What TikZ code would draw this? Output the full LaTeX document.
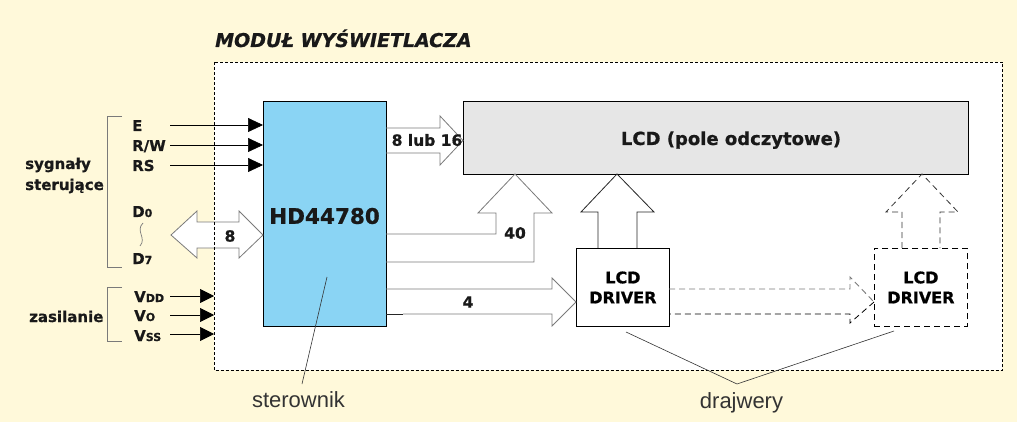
\documentclass[tikz,border=0pt]{standalone}
\usepackage{fontspec}
\setmainfont{DejaVu Sans}[BoldFeatures={FakeBold=0.8},BoldItalicFeatures={FakeBold=0.8}]
\newfontfamily\thinf{Liberation Sans}
\usetikzlibrary{arrows.meta}
\definecolor{bgy}{HTML}{FFF9DA}
\definecolor{hdblue}{HTML}{8AD4F4}
\definecolor{lcdgray}{HTML}{E6E6E6}
\definecolor{agray}{HTML}{7A7A7A}
\definecolor{tgray}{HTML}{333333}
\tikzset{
  box/.style={draw=black, line width=0.8pt, inner sep=0pt},
  lbl/.style={inner sep=0pt, text=black!90},
  sig/.style={lbl, font=\bfseries\fontsize{15}{18}\selectfont, anchor=base west},
  fat/.style={draw=agray, line width=0.8pt, line join=miter},
  fatdark/.style={draw=black!85, line width=0.8pt, line join=miter},
  pin/.style={draw=black, line width=0.7pt, -{Triangle[length=15pt,width=14pt]}},
  pinv/.style={draw=black, line width=0.7pt, -{Triangle[length=14pt,width=14pt]}},
  brk/.style={draw=agray, line width=0.8pt},
  ptr/.style={draw=tgray, line width=0.6pt},
  note/.style={inner sep=0pt, text=tgray, font=\thinf\fontsize{22}{26}\selectfont, anchor=base},
  dbox/.style={draw=black, line width=0.8pt, dash pattern=on 6pt off 4pt, inner sep=0pt}
}
\begin{document}
\begin{tikzpicture}[x=1pt,y=-1pt]
\useasboundingbox (0,0) rectangle (1017,422);
\fill[bgy] (0,0) rectangle (1017,422);
% module area
\node[fill=white, inner sep=0pt, minimum width=788, minimum height=308, anchor=north west] (mod) at (214,62) {};
\node[lbl, font=\bfseries\itshape\fontsize{19}{22}\selectfont, anchor=base west] (title) at (215,47) {MODUŁ WYŚWIETLACZA};

% main blocks
\node[box, fill=hdblue, minimum width=123, minimum height=225, anchor=north west] (hd) at (263,101) {};
\node[lbl, font=\bfseries\fontsize{21.5}{24}\selectfont] (hdt) at (324.5,216) {HD44780};
\node[box, fill=lcdgray, minimum width=505, minimum height=73, anchor=north west] (lcd) at (463,101) {};
\node[lbl, font=\bfseries\fontsize{18}{21}\selectfont, anchor=base] (lcdt) at (731,145) {LCD (pole odczytowe)};
\node[box, fill=white, minimum width=93, minimum height=78, anchor=north west, align=center, font=\bfseries\fontsize{16}{20}\selectfont] (drv1) at (576,248) {LCD\\DRIVER};
\node[dbox, minimum width=93, minimum height=78, anchor=north west, align=center, font=\bfseries\fontsize{16}{20}\selectfont] (drv2) at (874,248) {LCD\\DRIVER};

% fat arrow 8 lub 16
\draw[fat] (386,128) -- (440,128) -- (440,116) -- (463,140.5) -- (440,165) -- (440,153) -- (386,153);
\node[lbl, font=\bfseries\fontsize{15.5}{18}\selectfont] (a16) at (427,140) {8 lub 16};
% fat arrow 40
\draw[fat] (386,234) -- (496,234) -- (496,213) -- (478,213) -- (515,174) -- (552,213) -- (534,213) -- (534,262) -- (386,262);
\node[lbl, font=\bfseries\fontsize{15.5}{18}\selectfont] (a40) at (515,233) {40};
% fat arrow 4
\draw[fat] (386,289) -- (552,289) -- (552,278) -- (576,302) -- (552,326) -- (552,314) -- (403,314);
\draw[fatdark] (386,314) -- (403,314);
\node[lbl, font=\bfseries\fontsize{15.5}{18}\selectfont] (a4) at (468,302) {4};
% driver1 to lcd
\draw[fatdark] (598,248) -- (598,212) -- (581,212) -- (617,174) -- (654,212) -- (637,212) -- (637,248);
% dashed arrow driver1 -> driver2
\draw[draw=agray, line width=0.9pt, dash pattern=on 6pt off 4pt] (669,289) -- (850,289) -- (850,277) -- (874,302);
\draw[draw=black, line width=0.8pt, dash pattern=on 6pt off 4pt] (874,302) -- (850,323) -- (850,314) -- (669,314);
% dashed up arrow driver2 -> lcd
\draw[draw=black!80, line width=0.8pt, dash pattern=on 6pt off 4pt] (902,248) -- (902,212) -- (886,212) -- (922,174) -- (958,212) -- (940,212) -- (940,248);

% data bus double arrow
\draw[fat, fill=white] (197,222) -- (239,222) -- (239,211) -- (263,235) -- (239,258) -- (239,248) -- (197,248) -- (197,258) -- (171,235) -- (197,211) -- cycle;
\node[lbl, font=\bfseries\fontsize{15.5}{18}\selectfont] (a8) at (230,236) {8};

% module border on top
\draw[black, line width=0.7pt, dash pattern=on 3pt off 2pt] (mod.north west) rectangle (mod.south east);

% control signals
\node[sig] (E) at (132,131) {E};
\node[sig] (RW) at (132,151) {R/W};
\node[sig] (RS) at (132,171) {RS};
\coordinate (Es) at (170,125);
\coordinate (RWs) at (170,145);
\coordinate (RSs) at (170,165);
\draw[pin] (Es) -- (Es -| hd.west);
\draw[pin] (RWs) -- (RWs -| hd.west);
\draw[pin] (RSs) -- (RSs -| hd.west);
\node[sig] (D0) at (132,217) {D{\fontsize{11}{13}\selectfont 0}};
\node[sig] (D7) at (132,264) {D{\fontsize{11}{13}\selectfont 7}};
\draw[agray, line width=0.7pt] (143,223) .. controls (135,231) and (147,238) .. (140,246);

% power
\node[sig] (VDD) at (134,302) {V{\fontsize{11}{13}\selectfont DD}};
\node[sig] (VO) at (134,321) {V{\fontsize{11}{13}\selectfont O}};
\node[sig] (VSS) at (134,341) {V{\fontsize{11}{13}\selectfont SS}};
\coordinate (VDDs) at (170,296);
\coordinate (VOs) at (170,315);
\coordinate (VSSs) at (170,334);
\draw[pinv] (VDDs) -- (VDDs -| mod.west);
\draw[pinv] (VOs) -- (VOs -| mod.west);
\draw[pinv] (VSSs) -- (VSSs -| mod.west);

% brackets
\draw[brk] (122,116) -- (107,116) -- (107,267) -- (122,267);
\draw[brk] (122,287) -- (107,287) -- (107,341) -- (122,341);
\node[lbl, font=\bfseries\fontsize{15}{21}\selectfont, align=left, anchor=base west] (syg) at (25,190) {sygnały\\sterujące};
\node[sig] (zas) at (29,322) {zasilanie};

% pointers
\node[note] (ster) at (298.5,407) {sterownik};
\coordinate (sp) at (327,277);
\coordinate (se) at (302,384);
\draw[ptr] (sp) -- (se);
\node[note] (draj) at (741.5,408) {drajwery};
\coordinate (dj) at (737,384);
\coordinate (d1) at (626,332);
\coordinate (d2) at (894,331);
\draw[ptr] (d1) -- (dj) -- (d2);
\end{tikzpicture}
\end{document}
